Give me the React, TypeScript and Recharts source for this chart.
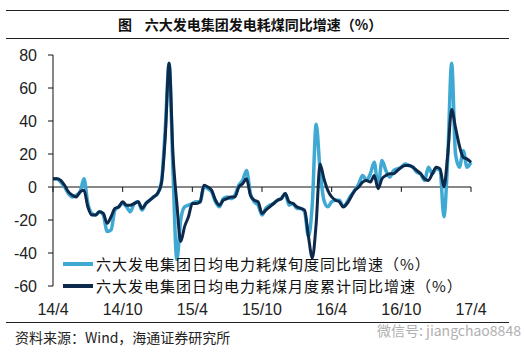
import * as React from 'react';
import { LineChart, Line, XAxis, YAxis, ReferenceLine } from 'recharts';

// 10-day (旬) observations, 14/4 .. 17/4
const tenDayYoy = [
  5, 5, 3, 0, -4, -6, -5, -3, 5, -10,
  -16, -17, -15, -17, -27, -26, -14, -12, -10, -12,
  -15, -10, -9, -14, -10, -8, -6, -4, 3, 35,
  75, 10, -44, -20, -12, -11, -10, -9, -9, 0,
  -1, -3, -9, -12, -7, -6, -7, -5, 1, 4,
  10, -4, -9, -11, -17, -13, -11, -10, -8, -7,
  -4, -11, -10, -13, -13, -15, -30, -10, 38, 10,
  -8, -12, -9, -8, -8, -12, -9, -5, -2, 2,
  7, 4, 8, 15, 0, 16, 10, 6, 10, 11,
  12, 14, 13, 12, 9, 8, 4, 12, 8, 11,
  10, -18, 18, 75, 20, 12, 22, 12, 15,
];

const monthlyCumYoy = [
  5, 5, 4, 1, -3, -5, -6, -3, -2, -12,
  -17, -17, -15, -16, -22, -18, -13, -12, -9, -11,
  -11, -10, -9, -13, -10, -8, -6, -4, 2, 30,
  75, 20, -10, -33, -24, -18, -10, -10, -9, 1,
  0, -2, -8, -11, -8, -7, -6, -6, 0, 2,
  5, -5, -8, -9, -16, -14, -12, -10, -8, -7,
  -4, -9, -10, -12, -13, -14, -30, -43, -22, 14,
  5, -2, -6, -8, -9, -12, -10, -6, -2, 0,
  3, 4, 3, 7, -1, 5, 7, 8, 8, 10,
  12, 13, 13, 12, 10, 8, 5, 4, 8, 12,
  11, 0, 20, 47, 36, 25, 18, 17, 15,
];

const xTicks = [0, 18, 36, 54, 72, 90, 108];
const xTickLabels = ['14/4', '14/10', '15/4', '15/10', '16/4', '16/10', '17/4'];
const yTicks = [80, 60, 40, 20, 0, -20, -40, -60];

const seriesNames = [
  '六大发电集团日均电力耗煤旬度同比增速（%）',
  '六大发电集团日均电力耗煤月度累计同比增速（%）',
];

const LIGHT = '#3fa9d4';
const DARK = '#0d2a4c';

const data = tenDayYoy.map((v, i) => ({ idx: i, tenDay: v, monthly: monthlyCumYoy[i] }));

const cjk = '"Noto Sans CJK SC", "Noto Sans", sans-serif';
const latin = 'Arial, "Liberation Sans", sans-serif';

export default function App() {
  return (
    <div style={{ position: 'absolute', left: 0, top: 0, width: 525, height: 354, background: '#fff', overflow: 'hidden' }}>
      <div style={{ position: 'absolute', left: 6, top: 10, width: 503, borderTop: '1.5px solid #222' }} />
      <div style={{ position: 'absolute', left: 118, top: 14, fontFamily: cjk, fontSize: 14, fontWeight: 700, color: '#111', whiteSpace: 'nowrap' }}>
        图&nbsp;&nbsp;&nbsp;&nbsp;六大发电集团发电耗煤同比增速（%）
      </div>
      <div style={{ position: 'absolute', left: 6, top: 38, width: 503, borderTop: '1.5px solid #222' }} />

      <div style={{ position: 'absolute', left: 0, top: 0 }}>
        <LineChart width={525} height={354} data={data} margin={{ top: 55, right: 54, left: 13, bottom: 38 }}>
          <XAxis
            dataKey="idx"
            type="number"
            domain={[0, 108]}
            ticks={xTicks}
            tickFormatter={(v: number) => xTickLabels[xTicks.indexOf(v)]}
            axisLine={false}
            tickLine={false}
            height={30}
            tickMargin={12}
            tick={{ fill: '#222', fontSize: 16, fontFamily: latin }}
            interval={0}
          />
          <YAxis
            type="number"
            domain={[-60, 80]}
            ticks={yTicks}
            width={40}
            interval={0}
            axisLine={{ stroke: '#111', strokeWidth: 1 }}
            tickLine={{ stroke: '#111' }}
            tickSize={5}
            tickMargin={11}
            tick={{ fill: '#222', fontSize: 16, fontFamily: latin }}
          />
          <ReferenceLine y={0} stroke="#111" strokeWidth={1} />
          {xTicks.map((t) => (
            <ReferenceLine
              key={t}
              segment={[{ x: t, y: 0 }, { x: t, y: -3 }]}
              stroke="#111"
              strokeWidth={1}
            />
          ))}
          <Line
            type="monotone"
            dataKey="tenDay"
            name={seriesNames[0]}
            stroke={LIGHT}
            strokeWidth={3.5}
            dot={false}
            isAnimationActive={false}
          />
          <Line
            type="monotone"
            dataKey="monthly"
            name={seriesNames[1]}
            stroke={DARK}
            strokeWidth={3}
            dot={false}
            isAnimationActive={false}
          />
        </LineChart>
      </div>

      {/* legend sits inside the plot, lower left */}
      <div style={{ position: 'absolute', left: 63, top: 253, fontFamily: cjk, fontSize: 15, color: '#111', lineHeight: '22px', letterSpacing: 1 }}>
        {[LIGHT, DARK].map((c, i) => (
          <div key={i} style={{ display: 'flex', alignItems: 'center', whiteSpace: 'nowrap', height: 22 }}>
            <span style={{ display: 'inline-block', width: 30, height: 4, background: c, marginRight: 3 }} />
            <span>{seriesNames[i]}</span>
          </div>
        ))}
      </div>

      <div style={{ position: 'absolute', left: 6, top: 322, width: 503, borderTop: '1.5px solid #222' }} />
      <div style={{ position: 'absolute', left: 15, top: 327, fontFamily: cjk, fontSize: 14, color: '#222', whiteSpace: 'nowrap' }}>
        资料来源：Wind，海通证券研究所
      </div>
      <div style={{ position: 'absolute', left: 377, top: 320, fontFamily: cjk, fontSize: 14, color: '#b0b0b0', whiteSpace: 'nowrap' }}>
        微信号: jiangchao8848
      </div>
    </div>
  );
}
